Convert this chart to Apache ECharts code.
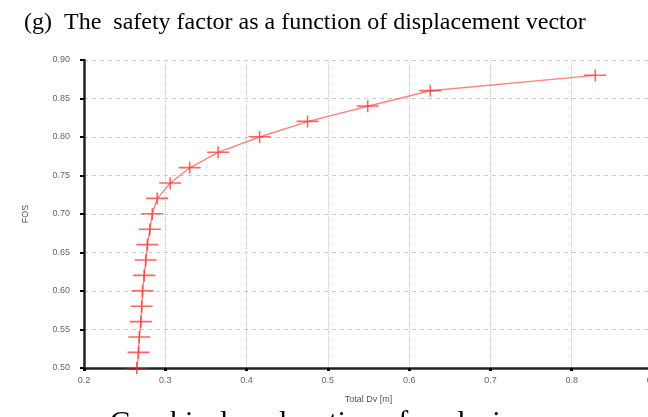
<!DOCTYPE html>
<html>
<head>
<meta charset="utf-8">
<script src="https://cdn.jsdelivr.net/npm/echarts@6/dist/echarts.min.js"></script>
<style>
  html, body { margin: 0; padding: 0; background: #fff; }
  #fosChart { width: 648px; height: 417px; }
</style>
</head>
<body>
<div id="fosChart"></div>
<script>
// FOS vs total displacement
var fosValues = [0.50, 0.52, 0.54, 0.56, 0.58, 0.60, 0.62, 0.64, 0.66, 0.68,
                 0.70, 0.72, 0.74, 0.76, 0.78, 0.80, 0.82, 0.84, 0.86, 0.88];
var dvValues = [0.265, 0.267, 0.268, 0.270, 0.271, 0.272, 0.274, 0.276, 0.278, 0.281,
                0.284, 0.290, 0.306, 0.330, 0.365, 0.416, 0.475, 0.549, 0.626, 0.829];

var chart = echarts.init(document.getElementById('fosChart'));
var labelFont = 'Liberation Sans, Arial, sans-serif';

var option = {
  animation: false,
  title: {
    text: '(g)  The  safety factor as a function of displacement vector',
    left: 19,
    top: 6,
    textStyle: {
      fontFamily: 'Liberation Serif, Times New Roman, serif',
      fontSize: 24,
      fontWeight: 'normal',
      color: '#000'
    }
  },
  // caption of the next figure, cut off by the bottom edge
  graphic: [
    {
      type: 'text',
      left: 110,
      top: 408,
      style: {
        text: 'Graphical explanation of analysis',
        font: '30px Liberation Serif, serif',
        fill: '#000'
      }
    }
  ],
  grid: {
    left: 84,
    right: -5,
    top: 60,
    bottom: 49,
    outerBoundsMode: 'none'
  },
  xAxis: {
    type: 'value',
    min: 0.2,
    max: 0.9,
    interval: 0.1,
    name: 'Total Dv [m]',
    nameLocation: 'middle',
    nameGap: 27,
    nameTextStyle: { fontFamily: labelFont, fontSize: 9, color: '#555' },
    axisLine: { lineStyle: { color: '#222', width: 2.5 } },
    axisTick: { length: 3, lineStyle: { color: '#000', width: 3 } },
    axisLabel: {
      fontFamily: labelFont, fontSize: 9, color: '#666', margin: 8,
      formatter: function (v) { return v.toFixed(1); }
    },
    splitLine: { show: true, lineStyle: { color: '#ccc', type: 'dotted', width: 1 } }
  },
  yAxis: {
    type: 'value',
    min: 0.5,
    max: 0.9,
    interval: 0.05,
    name: 'FOS',
    nameLocation: 'middle',
    nameGap: 54,
    nameRotate: 90,
    nameTextStyle: { fontFamily: labelFont, fontSize: 9, color: '#555' },
    axisLine: { show: true, lineStyle: { color: '#222', width: 2.5 } },
    axisTick: { show: true, length: 4, lineStyle: { color: '#000', width: 2 } },
    axisLabel: {
      fontFamily: labelFont, fontSize: 9, color: '#666', margin: 14,
      formatter: function (v) { return v.toFixed(2); }
    },
    splitLine: { show: true, lineStyle: { color: '#ccc', type: [4, 4], width: 1 } }
  },
  series: [
    {
      name: 'FOS',
      type: 'line',
      data: dvValues.map(function (dv, i) {
        return [dv, fosValues[i]];
      }),
      symbol: 'path://M0,5h22v1.6h-22z M10.2,0h1.6v12h-1.6z',
      symbolSize: [22, 12],
      itemStyle: { color: 'rgba(255,50,50,0.75)' },
      lineStyle: { color: 'rgba(255,80,80,0.7)', width: 1.4 }
    }
  ]
};
chart.setOption(option);
</script>
</body>
</html>
